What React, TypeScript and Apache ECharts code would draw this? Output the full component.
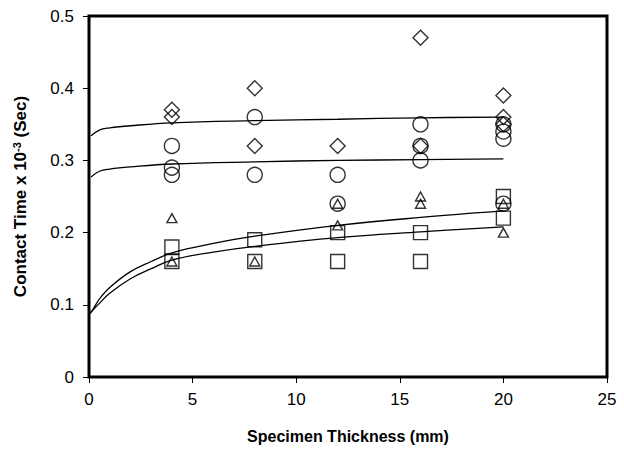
import React, { useEffect, useRef } from "react";
import * as echarts from "echarts";

// Measured points: [thickness (mm), contact time x 10^-3 s]
const diamondPts: number[][] = [
  [4, 0.37], [4, 0.36], [8, 0.40], [8, 0.32], [12, 0.32],
  [16, 0.47], [16, 0.32], [20, 0.39], [20, 0.36], [20, 0.35],
];
const circlePts: number[][] = [
  [4, 0.32], [4, 0.29], [4, 0.28], [8, 0.36], [8, 0.28],
  [12, 0.28], [12, 0.24], [16, 0.35], [16, 0.32], [16, 0.30],
  [20, 0.35], [20, 0.34], [20, 0.33], [20, 0.24],
];
const trianglePts: number[][] = [
  [4, 0.22], [4, 0.16], [8, 0.16], [12, 0.24], [12, 0.21],
  [16, 0.25], [16, 0.24], [20, 0.24], [20, 0.20],
];
const squarePts: number[][] = [
  [4, 0.18], [4, 0.16], [8, 0.19], [8, 0.16], [12, 0.20],
  [12, 0.16], [16, 0.20], [16, 0.16], [20, 0.25], [20, 0.22],
];

// Trend curves
const fitX1 = [0.1, 0.5, 1, 2, 4, 8, 12, 16, 20];
const diamondFit = [0.334, 0.342, 0.345, 0.348, 0.352, 0.355, 0.357, 0.359, 0.36];
const circleFit = [0.277, 0.285, 0.288, 0.291, 0.295, 0.298, 0.3, 0.301, 0.302];
const fitX2 = [0.05, 0.2, 0.5, 1, 2, 3, 4, 6, 8, 12, 16, 20];
const squareFit = [0.088, 0.094, 0.108, 0.124, 0.146, 0.16, 0.172, 0.185, 0.195, 0.21, 0.221, 0.23];
const triangleFit = [0.088, 0.093, 0.102, 0.116, 0.136, 0.15, 0.162, 0.173, 0.181, 0.193, 0.201, 0.208];

const xTitle = "Specimen Thickness (mm)";
const yTitle = "Contact Time x 10{sup|-3} (Sec)";

const FONT = "'Liberation Sans', Arial, sans-serif";

export default function App() {
  const ref = useRef<HTMLDivElement>(null);
  useEffect(() => {
    if (!ref.current) return;
    const chart = echarts.init(ref.current, undefined, { renderer: "svg" });
    const markerStyle = {
      color: "rgba(0,0,0,0)",
      borderColor: "#000",
      borderWidth: 1.4,
    };
    const zip = (xs: number[], ys: number[]) => xs.map((x, i) => [x, ys[i]]);
    const lineSeries = (data: number[][]) => ({
      type: "line",
      data,
      smooth: 0.4,
      showSymbol: false,
      symbol: "none",
      lineStyle: { color: "#000", width: 1.3 },
      z: 3,
    });
    chart.setOption({
      animation: false,
      backgroundColor: "#fff",
      grid: {
        left: 89,
        top: 16,
        right: 17,
        bottom: 78,
        show: true,
        borderColor: "#000",
        borderWidth: 3,
        backgroundColor: "transparent",
      },
      xAxis: {
        type: "value",
        min: 0,
        max: 25,
        interval: 5,
        name: xTitle,
        nameLocation: "middle",
        nameGap: 51,
        nameTextStyle: { fontFamily: FONT, fontWeight: "bold", fontSize: 16, color: "#000" },
        axisLine: { show: false },
        axisTick: { show: true, length: 6, lineStyle: { color: "#000", width: 1 } },
        axisLabel: { fontFamily: FONT, fontSize: 17, color: "#000", margin: 14 },
        splitLine: { show: false },
      },
      yAxis: {
        type: "value",
        min: 0,
        max: 0.5,
        interval: 0.1,
        name: yTitle,
        nameLocation: "middle",
        nameRotate: 90,
        nameGap: 59,
        nameTextStyle: {
          fontFamily: FONT,
          fontWeight: "bold",
          fontSize: 17,
          color: "#000",
          rich: {
            sup: {
              fontFamily: FONT,
              fontWeight: "bold",
              fontSize: 11,
              color: "#000",
              verticalAlign: "top",
              padding: [0, 0, 8, 0],
            },
          },
        },
        axisLine: { show: false },
        axisTick: { show: true, length: 6, lineStyle: { color: "#000", width: 1 } },
        axisLabel: {
          fontFamily: FONT,
          fontSize: 17,
          color: "#000",
          margin: 15,
          formatter: (v: number) => String(Math.round(v * 10) / 10),
        },
        splitLine: { show: false },
      },
      series: [
        lineSeries(zip(fitX1, diamondFit)),
        lineSeries(zip(fitX1, circleFit)),
        lineSeries(zip(fitX2, squareFit)),
        lineSeries(zip(fitX2, triangleFit)),
        {
          type: "scatter",
          data: diamondPts,
          symbol: "diamond",
          symbolSize: [15, 15],
          itemStyle: markerStyle,
          z: 4,
        },
        {
          type: "scatter",
          data: circlePts,
          symbol: "circle",
          symbolSize: 15,
          itemStyle: markerStyle,
          z: 4,
        },
        {
          type: "scatter",
          data: trianglePts,
          symbol: "triangle",
          symbolSize: [10, 9],
          itemStyle: markerStyle,
          z: 4,
        },
        {
          type: "scatter",
          data: squarePts,
          symbol: "rect",
          symbolSize: 14,
          itemStyle: markerStyle,
          z: 4,
        },
      ],
    });
    return () => chart.dispose();
  }, []);
  return <div ref={ref} style={{ width: 624, height: 455, position: "absolute", left: 0, top: 0 }} />;
}
